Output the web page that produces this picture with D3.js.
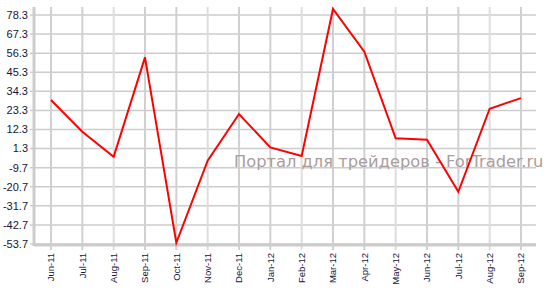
<!DOCTYPE html>
<html lang="en">
<head>
<meta charset="UTF-8">
<title>Chart</title>
<script src="https://d3js.org/d3.v7.min.js"></script>
<style>
  body { margin: 0; background: #fff; }
  text { font-family: "Liberation Sans", Arial, sans-serif; }
</style>
</head>
<body>
<div id="chart"></div>
<script>
// months and values
const months = ["Jun-11", "Jul-11", "Aug-11", "Sep-11", "Oct-11", "Nov-11", "Dec-11", "Jan-12",
  "Feb-12", "Mar-12", "Apr-12", "May-12", "Jun-12", "Jul-12", "Aug-12", "Sep-12"];
const values = [29.3, 11.0, -3.4, 53.9, -53.0, -5.7, 21.2, 2.0,
  -3.0, 81.8, 57.2, 7.2, 6.4, -23.6, 24.3, 30.4];
const yTicks = [78.3, 67.3, 56.3, 45.3, 34.3, 23.3, 12.3, 1.3, -9.7, -20.7, -31.7, -42.7, -53.7];
const watermark = "Портал для трейдеров - ForTrader.ru";

const width = 550, height = 303;
const plotLeft = 34, plotRight = 536, plotTop = 7, plotBottom = 245;

const svg = d3.select("#chart").append("svg")
  .attr("width", width)
  .attr("height", height);

const x = d3.scalePoint().domain(months).range([51, 521]);
const y = d3.scaleLinear().domain([-53.7, 78.3]).range([244, 15]);

// horizontal grid
svg.append("g")
  .selectAll("line")
  .data(yTicks)
  .enter().append("line")
  .attr("x1", plotLeft - 4).attr("x2", plotRight)
  .attr("y1", d => y(d)).attr("y2", d => y(d))
  .attr("stroke", "#cccccc")
  .attr("stroke-width", 1.5);

// vertical grid
svg.append("g")
  .selectAll("line")
  .data(months)
  .enter().append("line")
  .attr("x1", d => x(d)).attr("x2", d => x(d))
  .attr("y1", plotTop).attr("y2", plotBottom + 5)
  .attr("stroke", (d, i) => i % 3 === 2 ? "#dddddd" : "#d0d0d0")
  .attr("stroke-width", 2);

// axis lines
svg.append("line")
  .attr("x1", plotLeft).attr("x2", plotLeft)
  .attr("y1", plotTop).attr("y2", plotBottom + 1)
  .attr("stroke", "#cccccc").attr("stroke-width", 3);
svg.append("line")
  .attr("x1", plotLeft).attr("x2", plotRight)
  .attr("y1", plotBottom).attr("y2", plotBottom)
  .attr("stroke", "#cccccc").attr("stroke-width", 3);

// y labels
svg.append("g")
  .selectAll("text")
  .data(yTicks)
  .enter().append("text")
  .attr("x", 28)
  .attr("y", d => y(d))
  .attr("dy", "0.35em")
  .attr("text-anchor", "end")
  .style("font-size", "11px")
  .style("fill", "#14143a")
  .text(d => d.toFixed(1));

// x labels, rotated
svg.append("g")
  .selectAll("text")
  .data(months)
  .enter().append("text")
  .attr("transform", d => `translate(${x(d)},${plotBottom + 8}) rotate(-90)`)
  .attr("dy", "0.35em")
  .attr("text-anchor", "end")
  .style("font-size", "9.5px")
  .style("fill", "#14143a")
  .text(d => d);

// watermark
svg.append("text")
  .attr("x", 234)
  .attr("y", 167)
  .style("font-family", "'DejaVu Sans', Verdana, sans-serif")
  .style("font-size", "16.3px")
  .style("fill", "#a99d9d")
  .text(watermark);

// the line
const line = d3.line()
  .x((d, i) => x(months[i]))
  .y(d => y(d));

svg.append("path")
  .datum(values)
  .attr("d", line)
  .attr("fill", "none")
  .attr("stroke", "#ff0000")
  .attr("stroke-width", 2)
  .attr("stroke-linejoin", "miter");
</script>
</body>
</html>
